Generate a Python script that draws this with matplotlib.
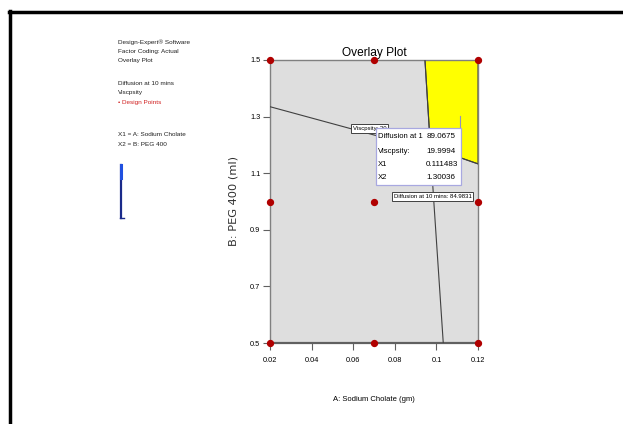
import numpy as np
import matplotlib
matplotlib.use("Agg")
import matplotlib.pyplot as plt
from matplotlib.lines import Line2D
from matplotlib.patches import Rectangle, Polygon

FONT = ["Liberation Sans", "DejaVu Sans"]

# design points (A: sodium cholate, B: PEG 400)
design_x = [0.02, 0.07, 0.12, 0.02, 0.07, 0.12, 0.02, 0.07, 0.12]
design_y = [1.5, 1.5, 1.5, 1.0, 1.0, 1.0, 0.5, 0.5, 0.5]

# viscosity = 20 contour
visc_x = [0.02, 0.045, 0.07, 0.09, 0.1118, 0.12]
visc_y = [1.335, 1.285, 1.235, 1.195, 1.154, 1.133]

# diffusion at 10 mins = 84.9831 contour
diff_x = [0.0945, 0.0966, 0.0977, 0.0988, 0.1033]
diff_y = [1.5, 1.253, 1.12, 0.995, 0.5]

# yellow (feasible) region
region_x = [0.0945, 0.12, 0.12, 0.1118, 0.0970, 0.0966]
region_y = [1.5, 1.5, 1.133, 1.154, 1.185, 1.253]

x_ticks = [0.02, 0.04, 0.06, 0.08, 0.1, 0.12]
x_tick_labels = ["0.02", "0.04", "0.06", "0.08", "0.1", "0.12"]
y_ticks = [0.5, 0.7, 0.9, 1.1, 1.3, 1.5]
y_tick_labels = ["0.5", "0.7", "0.9", "1.1", "1.3", "1.5"]

flag_rows = [("Diffusion at 1", "89.0675"), ("Viscpsity:", "19.9994"),
             ("X1", "0.111483"), ("X2", "1.30036")]
flag_point = (0.1115, 1.30036)

fig = plt.figure(figsize=(6.23, 4.24), dpi=100)
fig.patch.set_facecolor("white")

# outer frame (top and left only)
fig.add_artist(Line2D([9 / 623, 1], [1 - 11.5 / 424, 1 - 11.5 / 424],
                      transform=fig.transFigure, color="black", lw=2.5))
fig.add_artist(Line2D([10 / 623, 10 / 623], [0, 1 - 10.5 / 424],
                      transform=fig.transFigure, color="black", lw=2.5))

ax = fig.add_axes([270 / 623, 1 - 343 / 424, 208 / 623, 283 / 424])
ax.set_facecolor("#dedede")
ax.set_xlim(0.02, 0.12)
ax.set_ylim(0.5, 1.5)

ax.add_patch(Polygon(list(zip(region_x, region_y)), closed=True,
                     fc="#ffff00", ec="#404040", lw=0.8, zorder=2))
ax.plot(visc_x, visc_y, color="#404040", lw=0.8, zorder=3)
ax.plot(diff_x, diff_y, color="#404040", lw=0.8, zorder=3)

ax.scatter(design_x, design_y, s=18, color="#b00000", zorder=6, clip_on=False)

# contour labels
ax.text(0.0597, 1.258, "Viscpsity: 20", fontsize=4.3, family=FONT,
        va="center", ha="left", zorder=4,
        bbox=dict(boxstyle="square,pad=0.3", fc="white", ec="#404040", lw=0.7))
ax.text(0.0794, 1.018, "Diffusion at 10 mins: 84.9831", fontsize=4.3,
        family=FONT, va="center", ha="left", zorder=4,
        bbox=dict(boxstyle="square,pad=0.3", fc="white", ec="#404040", lw=0.7))

# flag / tooltip
ax.plot([flag_point[0], flag_point[0]], [flag_point[1], 1.26],
        color="#9090c0", lw=0.8, zorder=5)
ax.add_patch(Rectangle((0.071, 1.058), 0.0408, 0.202, fc="white",
                       ec="#a8a8e0", lw=0.9, zorder=7))
row_y = [1.228, 1.178, 1.132, 1.086]
for (name, val), yy in zip(flag_rows, row_y):
    ax.text(0.0717, yy, name, fontsize=5.5, family=FONT, va="center",
            ha="left", zorder=8)
    ax.text(0.0951, yy, val, fontsize=5.8, family=FONT, va="center",
            ha="left", zorder=8)

for side in ["top", "right", "left"]:
    ax.spines[side].set_color("#808080")
    ax.spines[side].set_linewidth(1.0)
ax.spines["bottom"].set_color("#606060")
ax.spines["bottom"].set_linewidth(1.6)

ax.set_xticks(x_ticks)
ax.set_xticklabels(x_tick_labels, family=FONT, fontsize=5.3)
ax.set_yticks(y_ticks)
ax.set_yticklabels(y_tick_labels, family=FONT, fontsize=5.3)
ax.tick_params(axis="both", direction="out", length=5, width=0.8,
               color="#606060", pad=2)
ax.tick_params(axis="x", pad=5)

ax.set_title("Overlay Plot", family=FONT, fontsize=8.6, pad=3)
ax.set_xlabel("A: Sodium Cholate (gm)", family=FONT, fontsize=5.5, labelpad=23)
ax.set_ylabel("B: PEG 400 (ml)", family="DejaVu Sans", fontsize=8.2,
              labelpad=8, color="#303030")

# left side info text
info = [("Design-Expert\u00ae Software", 39, "#202020"),
        ("Factor Coding: Actual", 49, "#202020"),
        ("Overlay Plot", 58, "#202020"),
        ("Diffusion at 10 mins", 81, "#202020"),
        ("Viscpsity", 90, "#202020"),
        ("\u2022 Design Points", 100, "#d02020"),
        ("X1 = A: Sodium Cholate", 132, "#202020"),
        ("X2 = B: PEG 400", 142, "#202020")]
for txt, ypx, col in info:
    fig.text(118 / 623, 1 - ypx / 424, txt, family=FONT, fontsize=4.6,
             color=col, va="top", ha="left")

# little blue legend bar
fig.add_artist(Line2D([121 / 623, 121 / 623], [1 - 165 / 424, 1 - 218 / 424],
                      transform=fig.transFigure, color="#1a2a8a", lw=1.6))
fig.add_artist(Line2D([121 / 623, 121 / 623], [1 - 165 / 424, 1 - 178 / 424],
                      transform=fig.transFigure, color="#2050e0", lw=2.2))
fig.add_artist(Line2D([120 / 623, 124 / 623], [1 - 218 / 424, 1 - 218 / 424],
                      transform=fig.transFigure, color="#1a2a8a", lw=1.0))

fig.savefig("out.png", dpi=100)
